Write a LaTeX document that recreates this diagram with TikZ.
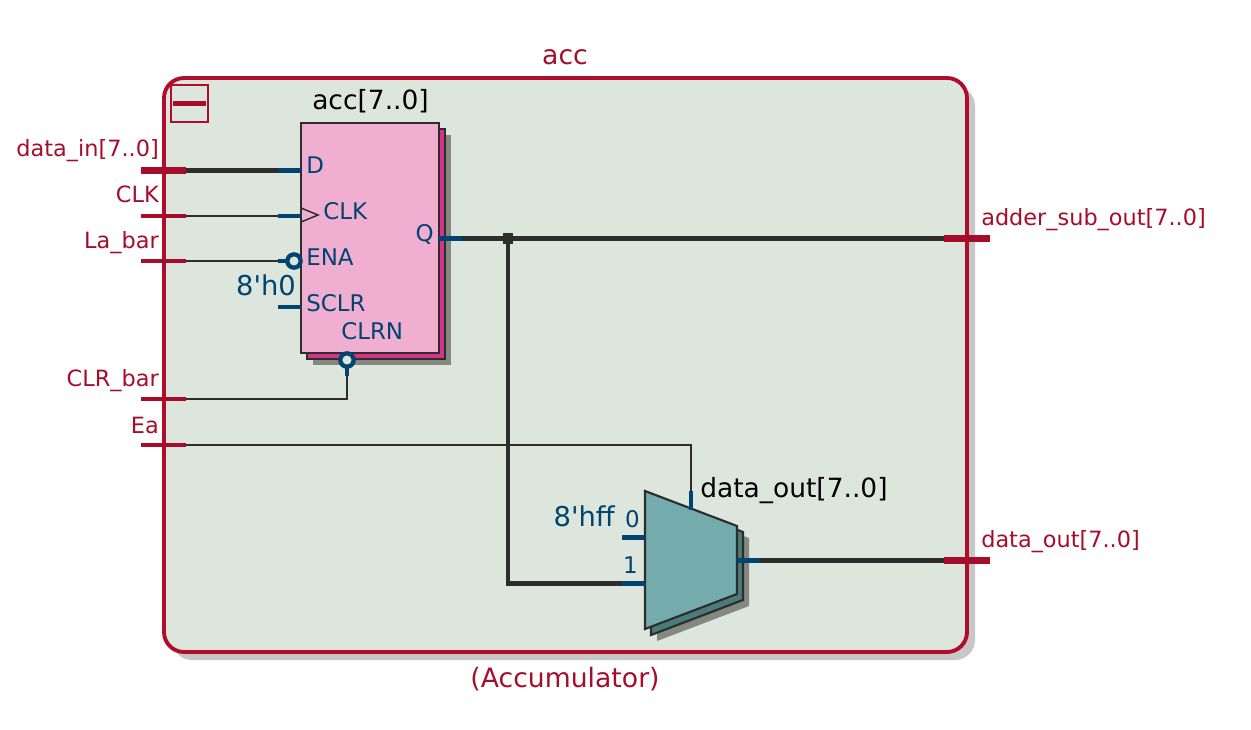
\documentclass[tikz,border=0pt]{standalone}
\usepackage{fontspec}
\setmainfont{DejaVu Sans}
\usetikzlibrary{positioning}
\definecolor{portred}{HTML}{A50D2B}
\definecolor{edgered}{HTML}{B20C2C}
\definecolor{pinblue}{HTML}{00446F}
\definecolor{wiregray}{HTML}{2D2D2B}
\definecolor{regionfill}{HTML}{DDE6DD}
\definecolor{regfill}{HTML}{F0AFD0}
\definecolor{regback}{HTML}{D4358A}
\definecolor{muxfill}{HTML}{74ACAE}
\definecolor{muxback}{HTML}{4A7C7E}
\definecolor{dropgray}{HTML}{84897F}
\tikzstyle{region} = [rectangle, rounded corners=15pt, draw=edgered, line width=2.9pt, fill=regionfill, minimum width=602.25pt, minimum height=430.5pt, inner sep=0pt, outer sep=0pt]
\tikzstyle{regbox} = [rectangle, draw=wiregray, line width=1.6pt, minimum width=103.5pt, minimum height=172.5pt, inner sep=0pt, outer sep=0pt]
\tikzstyle{regionlabel} = [font=\fontsize{20}{20}\selectfont, text=portred, inner sep=0pt]
\tikzstyle{portlabel} = [font=\fontsize{16.8}{16.8}\selectfont, text=portred, inner sep=0pt]
\tikzstyle{pinlabel} = [font=\fontsize{17.2}{17.2}\selectfont, text=pinblue, inner sep=0pt]
\tikzstyle{constlabel} = [font=\fontsize{20.5}{20.5}\selectfont, text=pinblue, inner sep=0pt]
\tikzstyle{namelabel} = [font=\fontsize{19.85}{19.85}\selectfont, text=black, inner sep=0pt]
\tikzstyle{thinwire} = [draw=wiregray, line width=1.7pt]
\tikzstyle{buswire} = [draw=wiregray, line width=3.5pt]
\tikzstyle{pinwire} = [draw=pinblue, line width=3.5pt]
\tikzstyle{thinport} = [draw=portred, line width=2.5pt]
\tikzstyle{busport} = [draw=portred, line width=5pt]
\tikzstyle{bubble} = [circle, draw=pinblue, line width=3.2pt, fill=regionfill, minimum size=10pt, inner sep=0pt, outer sep=0pt]
\tikzstyle{junction} = [rectangle, fill=wiregray, minimum size=8pt, inner sep=0pt]
\begin{document}
\begin{tikzpicture}[x=0.75pt, y=-0.75pt]
  \useasboundingbox (0,0) rectangle (1251,730);

  % region
  \node[region, draw=none, fill=black!22] (accShadow) at (573.5,373) {};
  \node[region] (accRegion) at (565.5,365) {};
  \node[rectangle, draw=edgered, line width=1.5pt, minimum size=27.75pt, inner sep=0pt] (collapseBox) at (189.5,103.5) {};
  \draw[draw=portred, line width=3.5pt] ([xshift=2.5pt]collapseBox.west) -- ([xshift=-2.25pt]collapseBox.east);

  % register
  \node[regbox, draw=none, fill=dropgray] (regShadow) at (382,250) {};
  \node[regbox, fill=regback] (regBack) at (376,244) {};
  \node[regbox, fill=regfill] (reg) at (370,238) {};

  % mux
  \fill[dropgray] (657,503) -- (749,538) -- (749,606) -- (657,641) -- cycle;
  \draw[draw=wiregray, line width=1.6pt, fill=muxback] (651,497) -- (743,532) -- (743,600) -- (651,635) -- cycle;
  \draw[draw=wiregray, line width=1.6pt, fill=muxfill] (645,491) -- (737,526) -- (737,594) -- (645,629) -- cycle;

  % ports
  \coordinate (dataIn) at (141,170.4);  \coordinate (dataInEnd) at (186,170.4);
  \coordinate (clkIn) at (141,216);   \coordinate (clkInEnd) at (186,216);
  \coordinate (laIn) at (141,261);    \coordinate (laInEnd) at (186,261);
  \coordinate (clrIn) at (141,399);   \coordinate (clrInEnd) at (186,399);
  \coordinate (eaIn) at (141,445);    \coordinate (eaInEnd) at (186,445);
  \coordinate (adderOut) at (990,238.4); \coordinate (adderOutEnd) at (944,238.4);
  \coordinate (dataOut) at (990,560.4);  \coordinate (dataOutEnd) at (944,560.4);

  % pins
  \coordinate (pinD) at (278,170.4);   \coordinate (pinDEnd) at (301,170.4);
  \coordinate (pinClk) at (278,216);   \coordinate (pinClkEnd) at (301,216);
  \coordinate (pinEna) at (278,261);
  \coordinate (pinSclr) at (278,307);  \coordinate (pinSclrEnd) at (301,307);
  \coordinate (pinClrn) at (347,376);
  \coordinate (pinQ) at (462,238.4);   \coordinate (pinQEnd) at (439,238.4);
  \coordinate (pinSel) at (691,491);   \coordinate (pinSelEnd) at (691,510);
  \coordinate (pinZero) at (622,537.4);  \coordinate (pinZeroEnd) at (645,537.4);
  \coordinate (pinOne) at (622,583.4);   \coordinate (pinOneEnd) at (645,583.4);
  \coordinate (pinOut) at (760,560.4);   \coordinate (pinOutEnd) at (737,560.4);
  \node[junction] (tap) at (508,238.4) {};

  % wires
  \draw[buswire] (dataInEnd) -- (pinD);
  \draw[thinwire] (clkInEnd) -- (pinClk);
  \draw[thinwire] (laInEnd) -- (pinEna);
  \draw[thinwire] (clrInEnd) -| (pinClrn);
  \draw[thinwire] (eaInEnd) -| (pinSel);
  \draw[buswire] (pinQ) -- (adderOutEnd);
  \draw[buswire] (tap) |- (pinOne);
  \draw[buswire] (pinOut) -- (dataOutEnd);

  \draw[busport] (dataIn) -- (dataInEnd);
  \draw[thinport] (clkIn) -- (clkInEnd);
  \draw[thinport] (laIn) -- (laInEnd);
  \draw[thinport] (clrIn) -- (clrInEnd);
  \draw[thinport] (eaIn) -- (eaInEnd);
  \draw[busport] (adderOutEnd) -- (adderOut);
  \draw[busport] (dataOutEnd) -- (dataOut);

  \node[bubble] (bubbleEna) at (294,261) {};
  \node[bubble] (bubbleClrn) at (347,360) {};
  \draw[pinwire] (pinD) -- (pinDEnd);
  \draw[pinwire] (pinClk) -- (pinClkEnd);
  \draw[pinwire] (pinEna) -- (bubbleEna);
  \draw[pinwire] (pinSclr) -- (pinSclrEnd);
  \draw[pinwire] (bubbleClrn) -- (pinClrn);
  \draw[pinwire] (pinQEnd) -- (pinQ);
  \draw[pinwire] (pinSel) -- (pinSelEnd);
  \draw[pinwire] (pinZero) -- (pinZeroEnd);
  \draw[pinwire] (pinOne) -- (pinOneEnd);
  \draw[pinwire] (pinOutEnd) -- (pinOut);
  \draw[draw=wiregray, line width=1.1pt] (301,208) -- (318,215) -- (301,222);

  % texts
  \node[regionlabel, anchor=base] (regionName) at (565,65) {acc};
  \node[regionlabel, anchor=base] (regionType) at (565,687) {(Accumulator)};
  \node[portlabel, anchor=base east] (lblData) at (159,157) {data\_in[7..0]};
  \node[portlabel, anchor=base east] (lblClk) at (159,203) {CLK};
  \node[portlabel, anchor=base east] (lblLa) at (159,249) {La\_bar};
  \node[portlabel, anchor=base east] (lblClr) at (159,387) {CLR\_bar};
  \node[portlabel, anchor=base east] (lblEa) at (159,433) {Ea};
  \node[portlabel, anchor=base west] (lblAdder) at (981,226) {adder\_sub\_out[7..0]};
  \node[portlabel, anchor=base west] (lblOut) at (981,547) {data\_out[7..0]};
  \node[namelabel, anchor=base west] (nameReg) at (312,110) {acc[7..0]};
  \node[namelabel, anchor=base west] (nameMux) at (700,497) {data\_out[7..0]};
  \node[pinlabel, anchor=base west] (txtD) at (306,174) {D};
  \node[pinlabel, anchor=base west] (txtClk) at (323,220) {CLK};
  \node[pinlabel, anchor=base west] (txtEna) at (306,266) {ENA};
  \node[pinlabel, anchor=base west] (txtSclr) at (306,312) {SCLR};
  \node[pinlabel, anchor=base west] (txtClrn) at (341,340) {CLRN};
  \node[pinlabel, anchor=base east] (txtQ) at (434,242) {Q};
  \node[pinlabel, anchor=base east] (txtZero) at (640,527) {0};
  \node[pinlabel, anchor=base east] (txtOne) at (638,573) {1};
  \node[constlabel, anchor=base east] (constClr) at (296,296) {8\textquotesingle h0};
  \node[constlabel, anchor=base east] (constHigh) at (615,526) {8\textquotesingle hff};
\end{tikzpicture}
\end{document}
